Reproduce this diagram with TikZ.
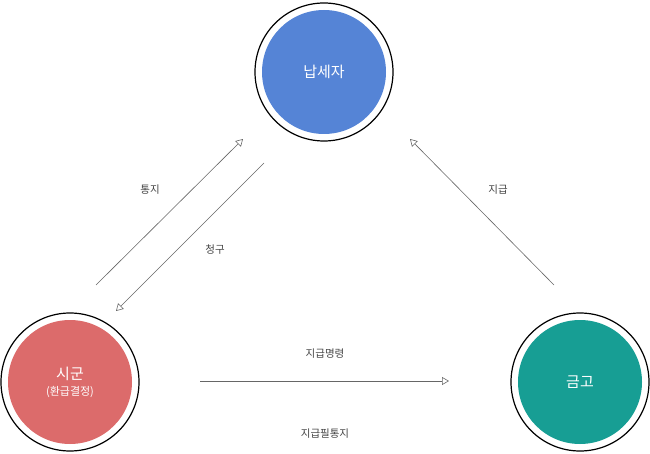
\documentclass[tikz,border=0pt]{standalone}
\usepackage{fontspec}
\setmainfont{Noto Sans CJK KR}
\usetikzlibrary{arrows.meta}
\definecolor{cblue}{HTML}{5584D6}
\definecolor{cred}{HTML}{DC6B6B}
\definecolor{cteal}{HTML}{179E94}
\definecolor{tgray}{HTML}{444444}
\begin{document}
\begin{tikzpicture}[x=1pt,y=-1pt,
  ring/.style={circle,draw=black,line width=1.2pt,minimum size=138pt,inner sep=0pt},
  disc/.style={circle,minimum size=124pt,inner sep=0pt,text=white,font=\fontsize{15}{18}\selectfont,align=center},
  lbl/.style={text=tgray,font=\fontsize{10.5}{12}\selectfont},
  conn/.style={draw=gray!80!black,line width=0.6pt,-{Triangle[open,length=7pt,width=8pt]}}]
\useasboundingbox (0,0) rectangle (650,454);
\node[ring] (rn) at (324,72) {};
\node[disc,fill=cblue] (n) at (324,72) {납세자};
\node[ring] (rs) at (70,382) {};
\node[disc,fill=cred] (s) at (70,382) {시군\\[-2pt]{\fontsize{11}{13}\selectfont (환급결정)}};
\node[ring] (rg) at (580,382) {};
\node[disc,fill=cteal] (g) at (580,382) {금고};
\coordinate (a1) at (96,285); \coordinate (a2) at (243,139);
\coordinate (b1) at (264,163); \coordinate (b2) at (116,311);
\coordinate (c1) at (554,285); \coordinate (c2) at (410,139);
\coordinate (d1) at (200,381); \coordinate (d2) at (449,381);
\coordinate (e1) at (207,404); \coordinate (e2) at (200,404);
\draw[conn] (a1) -- (a2);
\draw[conn] (b1) -- (b2);
\draw[conn] (c1) -- (c2);
\draw[conn] (d1) -- (d2);
\draw[conn,draw opacity=0] (e1) -- (e2);
\node[lbl] (t1) at (150,190) {통지};
\node[lbl] (t2) at (215,250) {청구};
\node[lbl] (t3) at (498,190) {지급};
\node[lbl] (t4) at (325,354) {지급명령};
\node[lbl] (t5) at (325,434) {지급필통지};
\end{tikzpicture}
\end{document}
